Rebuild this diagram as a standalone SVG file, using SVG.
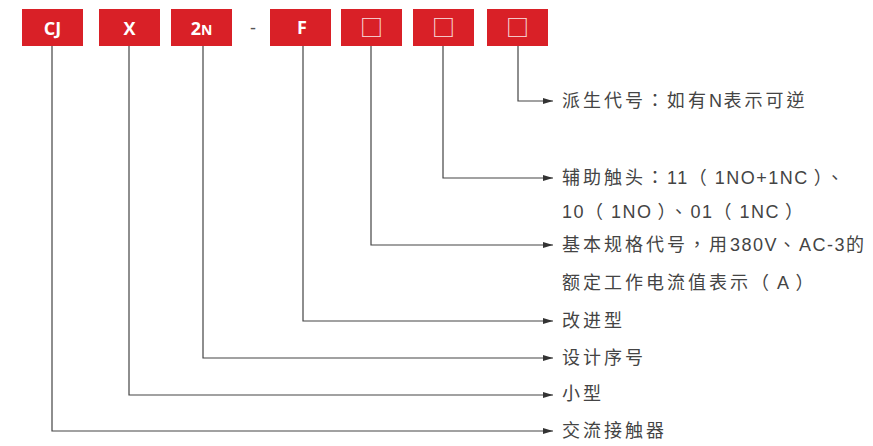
<svg xmlns="http://www.w3.org/2000/svg" width="873" height="446" viewBox="0 0 873 446">
<defs>
<style>
.box{fill:#D92027}
.bt{font-family:"Open Sans","Noto Sans","Liberation Sans",sans-serif;font-weight:bold;font-size:18px;fill:#fff;text-anchor:middle}
.sq{font-family:"Noto Sans CJK SC",sans-serif;font-size:23px;fill:#fbe3e3;text-anchor:middle}
.ln{fill:none;stroke:#444;stroke-width:1.2}
.lb{font-family:"Liberation Sans","Noto Sans CJK TC",sans-serif;font-size:18px;fill:#444;letter-spacing:3px}
.la{letter-spacing:1.5px}
</style>
<marker id="ar" viewBox="0 0 10 6" refX="10" refY="3" markerWidth="10" markerHeight="6" markerUnits="userSpaceOnUse" orient="auto">
<path d="M0,0 L10,3 L0,6 z" fill="#333"/>
</marker>
</defs>
<rect width="873" height="446" fill="#fff"/>
<g id="n-cj"><rect class="box" x="22" y="9" width="61" height="37"/><text class="bt" x="52.5" y="34.5">CJ</text></g>
<g id="n-x"><rect class="box" x="99" y="9" width="61" height="37"/><text class="bt" x="129.5" y="34.5">X</text></g>
<g id="n-2n"><rect class="box" x="171" y="9" width="61" height="37"/><text class="bt" x="201.5" y="34.5">2<tspan font-size="14px">N</tspan></text></g>
<text x="253" y="34" font-family="Liberation Sans,sans-serif" font-size="18" fill="#555" text-anchor="middle">-</text>
<g id="n-f"><rect class="box" x="270" y="9" width="61" height="37"/><text class="bt" x="302" y="34" font-weight="normal" font-size="16px">F</text></g>
<g id="n-s1"><rect class="box" x="341" y="9" width="61" height="37"/><text class="sq" x="371.5" y="36">□</text></g>
<g id="n-s2"><rect class="box" x="413" y="9" width="61" height="37"/><text class="sq" x="443.5" y="36">□</text></g>
<g id="n-s3"><rect class="box" x="487" y="9" width="61" height="37"/><text class="sq" x="517.5" y="36">□</text></g>
<g id="connectors">
<path class="ln" d="M518,46 V101 H553" marker-end="url(#ar)"/>
<path class="ln" d="M443,46 V178 H553" marker-end="url(#ar)"/>
<path class="ln" d="M371,46 V245 H553" marker-end="url(#ar)"/>
<path class="ln" d="M303,46 V321 H553" marker-end="url(#ar)"/>
<path class="ln" d="M203,46 V358 H553" marker-end="url(#ar)"/>
<path class="ln" d="M129,46 V395 H553" marker-end="url(#ar)"/>
<path class="ln" d="M52,46 V431 H553" marker-end="url(#ar)"/>
</g>
<g id="labels">
<text class="lb" x="562" y="107">派生代号：如有<tspan class="la">N</tspan>表示可逆</text>
<text class="lb" x="562" y="184">辅助触头：<tspan class="la">11</tspan>（<tspan class="la" dx="5">1NO+1NC</tspan><tspan dx="5">）</tspan>、</text>
<text class="lb" x="562" y="218"><tspan class="la">10</tspan>（<tspan class="la" dx="5">1NO</tspan><tspan dx="5">）</tspan>、<tspan class="la">01</tspan>（<tspan class="la" dx="5">1NC</tspan><tspan dx="5">）</tspan></text>
<text class="lb" x="562" y="251">基本规格代号，用<tspan class="la">380V</tspan>、<tspan class="la">AC-3</tspan>的</text>
<text class="lb" x="562" y="289">额定工作电流值表示（<tspan class="la" dx="5">A</tspan><tspan dx="5">）</tspan></text>
<text class="lb" x="562" y="327">改进型</text>
<text class="lb" x="562" y="364">设计序号</text>
<text class="lb" x="562" y="400">小型</text>
<text class="lb" x="562" y="437">交流接触器</text>
</g>
</svg>
